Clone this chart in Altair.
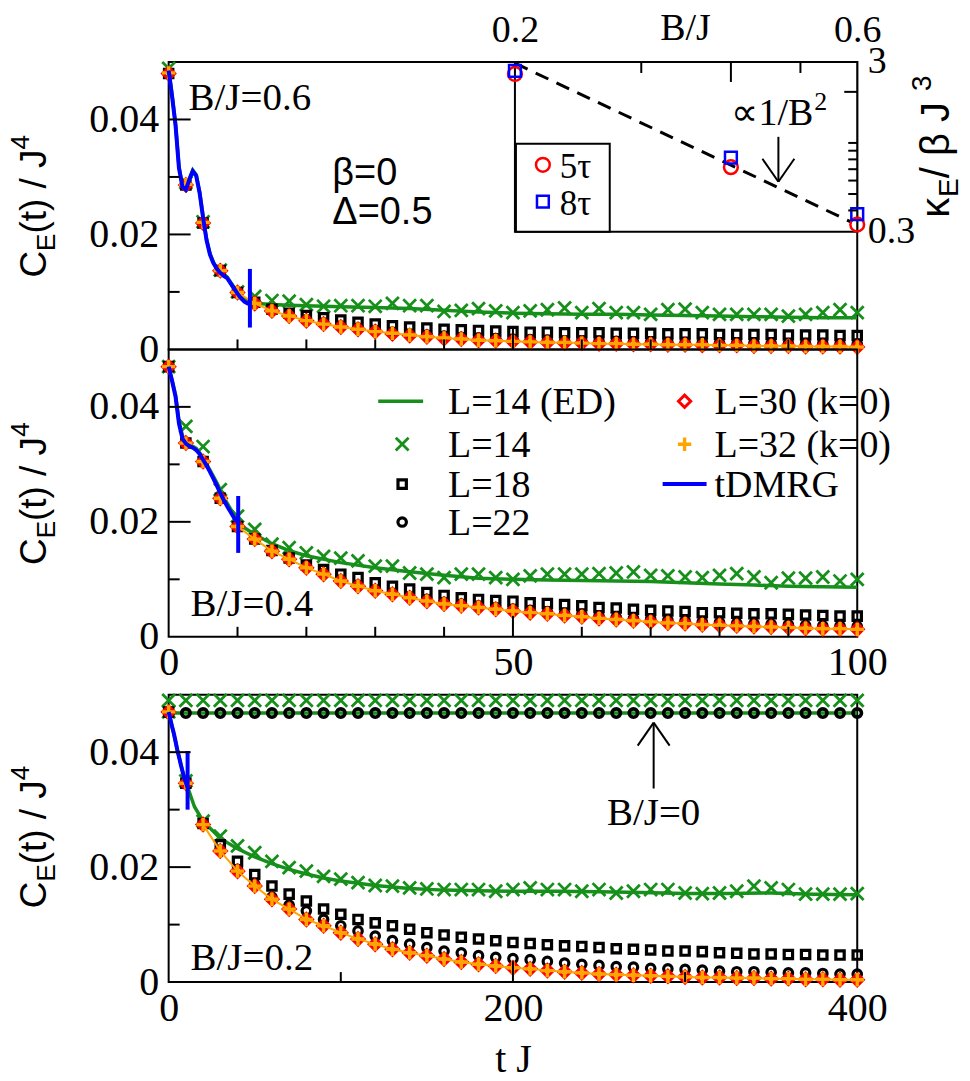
import altair as alt
import pandas as pd

# ---------------------------------------------------------------- data
T100 = [0, 2.5, 5, 7.5, 10, 12.5, 15, 17.5, 20, 22.5,
        25, 27.5, 30, 32.5, 35, 37.5, 40, 42.5, 45, 47.5,
        50, 52.5, 55, 57.5, 60, 62.5, 65, 67.5, 70, 72.5,
        75, 77.5, 80, 82.5, 85, 87.5, 90, 92.5, 95, 97.5, 100]
T400 = [0, 10, 20, 30, 40, 50, 60, 70, 80, 90,
        100, 110, 120, 130, 140, 150, 160, 170, 180, 190,
        200, 210, 220, 230, 240, 250, 260, 270, 280, 290,
        300, 310, 320, 330, 340, 350, 360, 370, 380, 390, 400]

# ---- B/J = 0.6 (top panel)
TOP_L14 = [0.0489, 0.0290, 0.0222, 0.0138, 0.0100, 0.0092, 0.0085, 0.0084, 0.0078, 0.0075,
           0.0076, 0.0076, 0.0075, 0.0080, 0.0076, 0.0076, 0.0066, 0.0068, 0.0071, 0.0067,
           0.0064, 0.0067, 0.0069, 0.0072, 0.0064, 0.0071, 0.0064, 0.0064, 0.0061, 0.0069,
           0.0070, 0.0064, 0.0061, 0.0061, 0.0061, 0.0061, 0.0058, 0.0061, 0.0064, 0.0069, 0.0064]
TOP_L18 = [0.0480, 0.0286, 0.0220, 0.0137, 0.0099, 0.0082, 0.0070, 0.0063, 0.0059, 0.0055,
           0.0051, 0.0047, 0.0044, 0.0041, 0.0039, 0.0037, 0.0035, 0.0034, 0.0033, 0.0032,
           0.0031, 0.0030, 0.0030, 0.0029, 0.0029, 0.0029, 0.0028, 0.0028, 0.0028, 0.0027,
           0.0027, 0.0027, 0.0026, 0.0026, 0.0026, 0.0026, 0.0025, 0.0025, 0.0025, 0.0024, 0.0024]
TOP_L22 = [0.0480, 0.0286, 0.0220, 0.0137, 0.0099, 0.0080, 0.0068, 0.0059, 0.0052, 0.0046,
           0.0041, 0.0037, 0.0033, 0.0030, 0.0027, 0.0025, 0.0023, 0.0021, 0.0020, 0.0019,
           0.0018, 0.0017, 0.0016, 0.0015, 0.0015, 0.0014, 0.0014, 0.0013, 0.0013, 0.0012,
           0.0012, 0.0012, 0.0011, 0.0011, 0.0011, 0.0010, 0.0010, 0.0010, 0.0010, 0.0009, 0.0009]
TOP_L30 = [0.0480, 0.0286, 0.0220, 0.0137, 0.0099, 0.0080, 0.0067, 0.0058, 0.0050, 0.0044,
           0.0039, 0.0035, 0.0031, 0.0027, 0.0024, 0.0022, 0.0019, 0.0018, 0.0016, 0.0015,
           0.0014, 0.0013, 0.0012, 0.0011, 0.0011, 0.0010, 0.0010, 0.0009, 0.0009, 0.0008,
           0.0008, 0.0007, 0.0007, 0.0007, 0.0006, 0.0006, 0.0006, 0.0005, 0.0005, 0.0005, 0.0004]
TOP_L32 = [0.0481, 0.0287, 0.0221, 0.0137, 0.0099, 0.0080, 0.0067, 0.0058, 0.0050, 0.0044,
           0.0039, 0.0035, 0.0031, 0.0028, 0.0025, 0.0022, 0.0020, 0.0018, 0.0016, 0.0015,
           0.0014, 0.0013, 0.0012, 0.0012, 0.0011, 0.0010, 0.0010, 0.0009, 0.0009, 0.0008,
           0.0008, 0.0008, 0.0007, 0.0007, 0.0006, 0.0006, 0.0006, 0.0005, 0.0005, 0.0005, 0.0004]
TOP_ED_T = [0, 0.5, 1, 1.5, 2, 2.5, 3, 3.5, 4, 4.5, 5, 5.5, 6, 6.5, 7, 7.5, 8, 8.5, 9, 9.5,
            10, 11, 12, 13, 15, 17.5, 20, 25, 30, 35, 40, 45, 50, 55, 60, 65, 70, 75, 80, 85,
            90, 95, 100]
TOP_ED_V = [0.0489, 0.0442, 0.0392, 0.0318, 0.0285, 0.0280, 0.0297, 0.0312, 0.0304, 0.0274,
            0.0231, 0.0192, 0.0167, 0.0152, 0.0142, 0.0135, 0.0130, 0.0126, 0.0117, 0.0108,
            0.0099, 0.0087, 0.0082, 0.0080, 0.0078, 0.0077, 0.0076, 0.0074, 0.0073, 0.0071,
            0.0068, 0.0065, 0.0063, 0.0062, 0.0061, 0.0061, 0.0060, 0.0059, 0.0058, 0.0057,
            0.0056, 0.0055, 0.0055]
TOP_DM_T = [0, 0.5, 1, 1.5, 2, 2.5, 3, 3.5, 4, 4.5, 5, 5.5, 6, 6.5, 7, 7.5, 8, 8.5, 9, 9.5,
            10, 10.5, 11, 11.6]
TOP_DM_V = [0.0485, 0.0440, 0.0390, 0.0315, 0.0283, 0.0278, 0.0295, 0.0310, 0.0302, 0.0272,
            0.0229, 0.0190, 0.0165, 0.0150, 0.0140, 0.0133, 0.0128, 0.0124, 0.0115, 0.0106,
            0.0097, 0.0089, 0.0083, 0.0079]
TOP_BAR = [11.8, 0.0038, 0.0140]

# ---- B/J = 0.4 (middle panel)
MID_L14 = [0.0470, 0.0366, 0.0331, 0.0256, 0.0210, 0.0187, 0.0161, 0.0155, 0.0146, 0.0140,
           0.0137, 0.0132, 0.0123, 0.0123, 0.0111, 0.0109, 0.0103, 0.0109, 0.0109, 0.0103,
           0.0100, 0.0106, 0.0109, 0.0109, 0.0109, 0.0110, 0.0111, 0.0113, 0.0107, 0.0106,
           0.0104, 0.0103, 0.0107, 0.0110, 0.0104, 0.0094, 0.0102, 0.0102, 0.0104, 0.0097, 0.0100]
MID_L18 = [0.0470, 0.0337, 0.0305, 0.0241, 0.0192, 0.0170, 0.0150, 0.0137, 0.0125, 0.0117,
           0.0109, 0.0103, 0.0094, 0.0088, 0.0083, 0.0077, 0.0072, 0.0068, 0.0065, 0.0063,
           0.0062, 0.0059, 0.0058, 0.0056, 0.0054, 0.0051, 0.0050, 0.0048, 0.0046, 0.0045,
           0.0044, 0.0042, 0.0042, 0.0041, 0.0040, 0.0040, 0.0039, 0.0038, 0.0037, 0.0036, 0.0036]
MID_L22 = [0.0470, 0.0337, 0.0305, 0.0241, 0.0192, 0.0170, 0.0149, 0.0135, 0.0121, 0.0110,
           0.0099, 0.0090, 0.0082, 0.0076, 0.0070, 0.0065, 0.0060, 0.0057, 0.0054, 0.0051,
           0.0048, 0.0046, 0.0043, 0.0041, 0.0039, 0.0036, 0.0034, 0.0032, 0.0031, 0.0029,
           0.0028, 0.0026, 0.0025, 0.0024, 0.0023, 0.0022, 0.0021, 0.0020, 0.0019, 0.0019, 0.0018]
MID_L30 = [0.0470, 0.0337, 0.0305, 0.0241, 0.0192, 0.0170, 0.0149, 0.0135, 0.0120, 0.0109,
           0.0097, 0.0088, 0.0080, 0.0074, 0.0068, 0.0062, 0.0057, 0.0054, 0.0051, 0.0048,
           0.0045, 0.0042, 0.0040, 0.0037, 0.0035, 0.0032, 0.0030, 0.0028, 0.0026, 0.0024,
           0.0023, 0.0021, 0.0020, 0.0019, 0.0018, 0.0017, 0.0016, 0.0015, 0.0014, 0.0014, 0.0013]
MID_L32 = [0.0470, 0.0337, 0.0305, 0.0241, 0.0192, 0.0170, 0.0149, 0.0135, 0.0120, 0.0109,
           0.0097, 0.0088, 0.0080, 0.0074, 0.0068, 0.0062, 0.0057, 0.0054, 0.0051, 0.0048,
           0.0045, 0.0042, 0.0040, 0.0037, 0.0035, 0.0032, 0.0030, 0.0028, 0.0026, 0.0024,
           0.0023, 0.0021, 0.0020, 0.0019, 0.0018, 0.0017, 0.0016, 0.0015, 0.0014, 0.0014, 0.0013]
MID_ED_T = [0, 0.5, 1, 1.5, 2, 2.5, 3, 4, 5, 6, 7, 8, 9, 10, 11, 12.5, 15, 17.5, 20, 25,
            30, 35, 40, 45, 50, 55, 60, 65, 70, 75, 80, 85, 90, 95, 100]
MID_ED_V = [0.0470, 0.0446, 0.0420, 0.0375, 0.0350, 0.0340, 0.0335, 0.0328, 0.0312, 0.0290,
            0.0268, 0.0243, 0.0222, 0.0204, 0.0190, 0.0178, 0.0162, 0.0150, 0.0141, 0.0129,
            0.0120, 0.0113, 0.0107, 0.0102, 0.0100, 0.0099, 0.0098, 0.0097, 0.0096, 0.0094,
            0.0092, 0.0090, 0.0088, 0.0087, 0.0086]
MID_DM_T = [0, 0.5, 1, 1.5, 2, 2.5, 3, 3.5, 4, 4.5, 5, 5.5, 6, 6.5, 7, 7.5, 8, 8.5, 9, 9.5, 10.1]
MID_DM_V = [0.0470, 0.0445, 0.0418, 0.0371, 0.0345, 0.0336, 0.0332, 0.0329, 0.0325, 0.0318,
            0.0308, 0.0298, 0.0287, 0.0275, 0.0263, 0.0250, 0.0238, 0.0227, 0.0217, 0.0207, 0.0198]
MID_BAR = [10.1, 0.0146, 0.0245]

# ---- B/J = 0.2 (bottom panel)
BOT_L14 = [0.0470, 0.0350, 0.0280, 0.0254, 0.0237, 0.0225, 0.0210, 0.0199, 0.0193, 0.0184,
           0.0179, 0.0173, 0.0168, 0.0167, 0.0164, 0.0162, 0.0161, 0.0161, 0.0161, 0.0158,
           0.0161, 0.0164, 0.0161, 0.0161, 0.0158, 0.0161, 0.0155, 0.0158, 0.0161, 0.0161,
           0.0155, 0.0154, 0.0155, 0.0158, 0.0167, 0.0164, 0.0161, 0.0153, 0.0153, 0.0153, 0.0154]
BOT_L18 = [0.0470, 0.0346, 0.0276, 0.0239, 0.0210, 0.0187, 0.0167, 0.0153, 0.0141, 0.0127,
           0.0118, 0.0109, 0.0103, 0.0098, 0.0092, 0.0086, 0.0082, 0.0078, 0.0075, 0.0072,
           0.0069, 0.0067, 0.0065, 0.0063, 0.0062, 0.0060, 0.0058, 0.0057, 0.0056, 0.0054,
           0.0054, 0.0053, 0.0051, 0.0050, 0.0049, 0.0049, 0.0048, 0.0048, 0.0047, 0.0047, 0.0047]
BOT_L22 = [0.0470, 0.0346, 0.0275, 0.0230, 0.0196, 0.0170, 0.0148, 0.0134, 0.0124, 0.0109,
           0.0098, 0.0089, 0.0080, 0.0072, 0.0066, 0.0060, 0.0054, 0.0051, 0.0046, 0.0043,
           0.0041, 0.0039, 0.0036, 0.0033, 0.0031, 0.0029, 0.0027, 0.0026, 0.0024, 0.0023,
           0.0022, 0.0021, 0.0019, 0.0018, 0.0018, 0.0017, 0.0016, 0.0016, 0.0015, 0.0014, 0.0014]
BOT_L30 = [0.0470, 0.0346, 0.0274, 0.0228, 0.0193, 0.0167, 0.0144, 0.0127, 0.0109, 0.0098,
           0.0086, 0.0075, 0.0066, 0.0057, 0.0051, 0.0046, 0.0040, 0.0035, 0.0031, 0.0028,
           0.0025, 0.0023, 0.0020, 0.0018, 0.0016, 0.0014, 0.0013, 0.0012, 0.0011, 0.0010,
           0.0009, 0.0008, 0.0008, 0.0007, 0.0007, 0.0006, 0.0006, 0.0005, 0.0005, 0.0004, 0.0004]
BOT_L32 = [0.0470, 0.0346, 0.0274, 0.0228, 0.0193, 0.0167, 0.0144, 0.0127, 0.0109, 0.0098,
           0.0086, 0.0075, 0.0066, 0.0057, 0.0051, 0.0046, 0.0040, 0.0035, 0.0031, 0.0028,
           0.0025, 0.0023, 0.0020, 0.0018, 0.0016, 0.0014, 0.0013, 0.0012, 0.0011, 0.0010,
           0.0009, 0.0008, 0.0008, 0.0007, 0.0007, 0.0006, 0.0006, 0.0005, 0.0005, 0.0004, 0.0004]
BOT_ED_T = [0, 2, 4, 6, 8, 10, 15, 20, 30, 40, 50, 60, 70, 80, 90, 100, 120, 140, 160, 180,
            200, 225, 250, 275, 300, 325, 350, 375, 400]
BOT_ED_V = [0.0470, 0.0445, 0.0418, 0.0392, 0.0368, 0.0348, 0.0305, 0.0280, 0.0250, 0.0232,
            0.0218, 0.0206, 0.0196, 0.0188, 0.0181, 0.0176, 0.0168, 0.0163, 0.0160, 0.0159,
            0.0158, 0.0158, 0.0157, 0.0156, 0.0154, 0.0154, 0.0155, 0.0153, 0.0152]
BOT_DM_T = [0, 1, 2, 3, 4, 5, 6, 7, 8, 9, 10, 11]
BOT_DM_V = [0.0470, 0.0457, 0.0444, 0.0433, 0.0419, 0.0404, 0.0392, 0.0379, 0.0367, 0.0356,
            0.0347, 0.0339]
BOT_BAR = [11.0, 0.0300, 0.0402]
# B/J = 0 reference curves (flat)
ZERO_L14 = [0.0490, 0.0490, 0.0490, 0.0490, 0.0490, 0.0490, 0.0490, 0.0490, 0.0490, 0.0490,
            0.0490, 0.0490, 0.0490, 0.0490, 0.0490, 0.0490, 0.0490, 0.0490, 0.0490, 0.0490,
            0.0490, 0.0490, 0.0490, 0.0490, 0.0490, 0.0490, 0.0490, 0.0490, 0.0490, 0.0490,
            0.0490, 0.0490, 0.0490, 0.0490, 0.0490, 0.0490, 0.0490, 0.0490, 0.0490, 0.0490, 0.0490]
ZERO_L22 = [0.0468, 0.0468, 0.0468, 0.0468, 0.0468, 0.0468, 0.0468, 0.0468, 0.0468, 0.0468,
            0.0468, 0.0468, 0.0468, 0.0468, 0.0468, 0.0468, 0.0468, 0.0468, 0.0468, 0.0468,
            0.0468, 0.0468, 0.0468, 0.0468, 0.0468, 0.0468, 0.0468, 0.0468, 0.0468, 0.0468,
            0.0468, 0.0468, 0.0468, 0.0468, 0.0468, 0.0468, 0.0468, 0.0468, 0.0468, 0.0468, 0.0468]
ZERO_ED_T = [0, 400]
ZERO_ED_V = [0.0468, 0.0468]

# ---- inset: kappa_E / (beta J^3) vs B/J
INSET_B = [0.2, 0.4, 0.6]
KAPPA_5TAU = [2.55, 0.72, 0.33]
KAPPA_8TAU = [2.66, 0.82, 0.38]
FIT_B = [0.2, 0.59]
FIT_K = [2.95, 0.34]

# ---- tick values
Y_LABELS = [0, 0.02, 0.04]
Y_MAJOR = [0.02, 0.04]
Y_MINOR = [0.01, 0.03]
X100_LABELS = [0, 50, 100]
X100_MAJOR = [50]
X100_MINOR = [10, 20, 30, 40, 60, 70, 80, 90]
X400_LABELS = [0, 200, 400]
X400_MAJOR = [200]
X400_MINOR = [100, 300]
IX_LABELS = [0.2, 0.6]
IX_MAJOR = [0.4]
IX_MINOR = [0.3, 0.5]
IY_LABELS = [0.3, 3]
IY_MAJOR = [2]
IY_MINOR = [0.4, 0.5, 0.6, 0.7, 0.8, 0.9, 1.0]

# ---------------------------------------------------------------- style
SERIF = "Liberation Serif"
SANS = "Liberation Sans"
GREEN = "#16901a"
RED = "#ff0000"
ORANGE = "#ffa500"
BLUE = "#0000ff"
BLACK = "#000000"
W = 690
H = 288
X_PATH = "M-1,-1L1,1M-1,1L1,-1"
PLUS_PATH = "M-1,0L1,0M0,-1L0,1"
ONE = pd.DataFrame({"k0": [0]})

SQ_SIZE, SQ_SW = 70, 3.2
CI_SIZE, CI_SW = 72, 3.2
DI_SIZE, DI_SW = 150, 3
PL_SIZE, PL_SW = 180, 3.4
XX_SIZE, XX_SW = 165, 2.8


def df_tv(t, v):
    n = min(len(t), len(v))
    return pd.DataFrame({"t": list(t)[:n], "v": list(v)[:n]})


def pts(t, v, X, Y, shape, color, size, sw):
    return alt.Chart(df_tv(t, v)).mark_point(
        shape=shape, color=color, size=size, strokeWidth=sw, filled=False, opacity=1
    ).encode(x=X, y=Y)


def ln(t, v, X, Y, color, sw, tmin=None):
    c = alt.Chart(df_tv(t, v))
    if tmin is not None:
        c = c.transform_filter(alt.datum.t >= tmin)
    return c.mark_line(color=color, strokeWidth=sw).encode(x=X, y=Y)


def txt(s, x, y, size, font=SERIF, align="left", angle=0, color=BLACK):
    return alt.Chart(ONE).mark_text(
        text=s, font=font, fontSize=size, align=align, baseline="alphabetic",
        angle=angle, color=color
    ).encode(x=alt.value(x), y=alt.value(y))


def seg(x1, y1, x2, y2, color=BLACK, sw=2):
    return alt.Chart(ONE).mark_rule(color=color, strokeWidth=sw).encode(
        x=alt.value(x1), y=alt.value(y1), x2=alt.value(x2), y2=alt.value(y2))


def sym(x, y, shape, color, size, sw):
    return alt.Chart(ONE).mark_point(
        shape=shape, color=color, size=size, strokeWidth=sw, filled=False, opacity=1
    ).encode(x=alt.value(x), y=alt.value(y))


def ytitle(bx, by):
    f, fs = 37, 26
    wC, wE, wM = 0.722 * f, 0.667 * fs, 2.278 * f
    return [
        txt("C", bx, by, f, SANS, angle=270),
        txt("E", bx + 9, by - wC, fs, SANS, angle=270),
        txt("(t) / J", bx, by - wC - wE, f, SANS, angle=270),
        txt("4", bx - 17, by - wC - wE - wM, fs, SANS, angle=270),
    ]


def ticks(X, Y, xmaj, xmin):
    return [
        alt.Chart(pd.DataFrame({"v": Y_MAJOR})).mark_tick(
            orient="horizontal", size=22, thickness=2, color=BLACK, opacity=1
        ).encode(y=Y, x=alt.value(11)),
        alt.Chart(pd.DataFrame({"v": Y_MINOR})).mark_tick(
            orient="horizontal", size=11, thickness=2, color=BLACK, opacity=1
        ).encode(y=Y, x=alt.value(5.5)),
        alt.Chart(pd.DataFrame({"t": xmaj})).mark_tick(
            orient="vertical", size=21, thickness=2, color=BLACK, opacity=1
        ).encode(x=X, y=alt.value(H - 10.5)),
        alt.Chart(pd.DataFrame({"t": xmin})).mark_tick(
            orient="vertical", size=10, thickness=2, color=BLACK, opacity=1
        ).encode(x=X, y=alt.value(H - 5)),
    ]


def series(X, Y, T, l14, l18, l22, l30, l32, ed_t, ed_v, dm_t, dm_v, bar, orange_from):
    bar_df = pd.DataFrame({"t": [bar[0]], "v": [bar[1]], "v2": [bar[2]]})
    return [
        ln(ed_t, ed_v, X, Y, GREEN, 3.5),
        pts(T, l14, X, Y, X_PATH, GREEN, XX_SIZE, XX_SW),
        pts(T, l18, X, Y, "square", BLACK, SQ_SIZE, SQ_SW),
        pts(T, l22, X, Y, "circle", BLACK, CI_SIZE, CI_SW),
        pts(T, l30, X, Y, "diamond", RED, DI_SIZE, DI_SW),
        ln(T, l32, X, Y, ORANGE, 2, tmin=orange_from),
        pts(T, l32, X, Y, PLUS_PATH, ORANGE, PL_SIZE, PL_SW),
        ln(dm_t, dm_v, X, Y, BLUE, 4),
        alt.Chart(bar_df).mark_rule(color=BLUE, strokeWidth=4).encode(
            x=X, y=Y, y2=alt.Y2("v2:Q")),
    ]


YS = alt.Scale(domain=[0, 0.05], nice=False, zero=False)
YAX = alt.Axis(values=Y_LABELS, format="~g", labelFont=SERIF, labelFontSize=40,
               labelPadding=10, labelColor=BLACK, ticks=False, domain=False,
               grid=False, labelOverlap=False)
Y = alt.Y("v:Q", scale=YS, axis=YAX, title=None)

# ---------------------------------------------------------------- top panel
X_top = alt.X("t:Q", scale=alt.Scale(domain=[0, 100], nice=False, zero=False), axis=None)
top_main = series(X_top, Y, T100, TOP_L14, TOP_L18, TOP_L22, TOP_L30, TOP_L32,
                  TOP_ED_T, TOP_ED_V, TOP_DM_T, TOP_DM_V, TOP_BAR, 10)
top_main += ticks(X_top, Y, X100_MAJOR, X100_MINOR)
top_main += ytitle(-123, 216)
top_main += [
    txt("B/J=0.6", 20, 48, 39),
    txt("β=0", 164, 123, 38, SANS),
    txt("Δ=0.5", 164, 162, 38, SANS),
]
# right title of inset: kappa_E / beta J^3
kf, kfs = 40, 28
kb, ky = 782, 156
wk, wE2, wM2 = 0.52 * kf, 0.667 * kfs, 2.187 * kf
top_main += [
    txt("κ", kb, ky, kf, SANS, angle=270),
    txt("E", kb + 9, ky - wk, kfs, SANS, angle=270),
    txt(" / β J", kb, ky - wk - wE2, kf, SANS, angle=270),
    txt("3", kb - 18, ky - wk - wE2 - wM2, kfs, SANS, angle=270),
]

IX = alt.X("b:Q", scale=alt.Scale(type="log", domain=[0.2, 0.6], range=[347, W], nice=False),
           axis=alt.Axis(orient="top", values=IX_LABELS, format="~g", labelFont=SERIF,
                         labelFontSize=38, labelPadding=13, labelFlush=False,
                         labelOverlap=False, labelColor=BLACK, ticks=False,
                         domain=False, grid=False),
           title=None)
IY = alt.Y("k:Q", scale=alt.Scale(type="log", domain=[0.3, 3], range=[170, 0], nice=False),
           axis=alt.Axis(orient="right", values=IY_LABELS, format="~g", labelFont=SERIF,
                         labelFontSize=38, labelPadding=10, labelOverlap=False,
                         labelColor=BLACK, ticks=False, domain=False, grid=False),
           title=None)

inset = [
    alt.Chart(ONE).mark_rect(fill="white", stroke=BLACK, strokeWidth=2).encode(
        x=alt.value(347), x2=alt.value(W), y=alt.value(0), y2=alt.value(170)),
    alt.Chart(pd.DataFrame({"b": FIT_B, "k": FIT_K})).mark_line(
        color=BLACK, strokeWidth=3, strokeDash=[14, 9]).encode(x=IX, y=IY),
    alt.Chart(pd.DataFrame({"b": INSET_B, "k": KAPPA_5TAU})).mark_point(
        shape="circle", color=RED, size=190, strokeWidth=2.5, filled=False, opacity=1
    ).encode(x=IX, y=IY),
    alt.Chart(pd.DataFrame({"b": INSET_B, "k": KAPPA_8TAU})).mark_point(
        shape="square", color=BLUE, size=140, strokeWidth=2.5, filled=False, opacity=1
    ).encode(x=IX, y=IY),
    alt.Chart(pd.DataFrame({"b": IX_MAJOR})).mark_tick(
        orient="vertical", size=20, thickness=2, color=BLACK, opacity=1
    ).encode(x=IX, y=alt.value(10)),
    alt.Chart(pd.DataFrame({"b": IX_MINOR})).mark_tick(
        orient="vertical", size=11, thickness=2, color=BLACK, opacity=1
    ).encode(x=IX, y=alt.value(5.5)),
    alt.Chart(pd.DataFrame({"k": IY_MAJOR})).mark_tick(
        orient="horizontal", size=13, thickness=2, color=BLACK, opacity=1
    ).encode(y=IY, x=alt.value(W - 6.5)),
    alt.Chart(pd.DataFrame({"k": IY_MINOR})).mark_tick(
        orient="horizontal", size=9, thickness=2, color=BLACK, opacity=1
    ).encode(y=IY, x=alt.value(W - 4.5)),
    # inset legend
    alt.Chart(ONE).mark_rect(fill="white", stroke=BLACK, strokeWidth=2).encode(
        x=alt.value(348), x2=alt.value(442), y=alt.value(82), y2=alt.value(170)),
    sym(375, 103, "circle", RED, 190, 2.5),
    sym(375, 140, "square", BLUE, 140, 2.5),
    txt("5τ", 392, 116, 35),
    txt("8τ", 392, 153, 35),
    txt("B/J", 518, -22, 38, align="center"),
    txt("∝1/B", 564, 63, 38),
    txt("2", 647, 48, 26),
    seg(611, 75, 611, 120),
    seg(595, 97, 611, 120),
    seg(627, 97, 611, 120),
]

top = alt.layer(alt.layer(*top_main), alt.layer(*inset)).resolve_scale(
    x="independent", y="independent").properties(width=W, height=H)

# ---------------------------------------------------------------- middle panel
X_mid = alt.X("t:Q", scale=alt.Scale(domain=[0, 100], nice=False, zero=False),
              axis=alt.Axis(values=X100_LABELS, format="d", labelFont=SERIF,
                            labelFontSize=40, labelPadding=6, labelFlush=False,
                            labelOverlap=False, labelColor=BLACK, ticks=False,
                            domain=False, grid=False),
              title=None)
mid_layers = series(X_mid, Y, T100, MID_L14, MID_L18, MID_L22, MID_L30, MID_L32,
                    MID_ED_T, MID_ED_V, MID_DM_T, MID_DM_V, MID_BAR, 10)
mid_layers += ticks(X_mid, Y, X100_MAJOR, X100_MINOR)
mid_layers += ytitle(-123, 216)
mid_layers += [
    txt("B/J=0.4", 22, 267, 39),
    # legend
    seg(210, 52, 255, 52, GREEN, 3.5),
    txt("L=14 (ED)", 280, 65, 38),
    sym(234, 95, X_PATH, GREEN, XX_SIZE, XX_SW),
    txt("L=14", 280, 108, 38),
    sym(234, 135, "square", BLACK, SQ_SIZE, SQ_SW),
    txt("L=18", 280, 148, 38),
    sym(234, 173, "circle", BLACK, CI_SIZE, CI_SW),
    txt("L=22", 280, 186, 38),
    sym(517, 52, "diamond", RED, DI_SIZE, DI_SW),
    txt("L=30 (k=0)", 547, 65, 38),
    sym(517, 95, PLUS_PATH, ORANGE, PL_SIZE, PL_SW),
    txt("L=32 (k=0)", 547, 108, 38),
    seg(495, 135, 539, 135, BLUE, 4),
    txt("tDMRG", 547, 148, 38),
]
mid = alt.layer(*mid_layers).properties(width=W, height=H)

# ---------------------------------------------------------------- bottom panel
X_bot = alt.X("t:Q", scale=alt.Scale(domain=[0, 400], nice=False, zero=False),
              axis=alt.Axis(values=X400_LABELS, format="d", labelFont=SERIF,
                            labelFontSize=40, labelPadding=6, labelFlush=False,
                            labelOverlap=False, labelColor=BLACK, ticks=False,
                            domain=False, grid=False, titleFont=SERIF,
                            titleFontSize=40, titleFontWeight="normal",
                            titleColor=BLACK, titlePadding=12),
              title="t J")
bot_layers = [
    ln(ZERO_ED_T, ZERO_ED_V, X_bot, Y, GREEN, 3.5),
    pts(T400, ZERO_L14, X_bot, Y, X_PATH, GREEN, XX_SIZE, XX_SW),
    pts(T400, ZERO_L22, X_bot, Y, "circle", BLACK, CI_SIZE, 3.6),
]
bot_layers += series(X_bot, Y, T400, BOT_L14, BOT_L18, BOT_L22, BOT_L30, BOT_L32,
                     BOT_ED_T, BOT_ED_V, BOT_DM_T, BOT_DM_V, BOT_BAR, 20)
bot_layers += ticks(X_bot, Y, X400_MAJOR, X400_MINOR)
bot_layers += ytitle(-123, 214)
bot_layers += [
    txt("B/J=0.2", 22, 276, 39),
    txt("B/J=0", 486, 131, 39, align="center"),
    seg(486, 28, 486, 94),
    seg(470, 51, 486, 28),
    seg(502, 51, 486, 28),
]
bot = alt.layer(*bot_layers).properties(width=W, height=H)

spacer = alt.Chart(ONE).mark_point(opacity=0).encode(
    x=alt.value(0), y=alt.value(0)
).properties(width=W, height=58, view=alt.ViewBackground(stroke="transparent"))

chart = alt.vconcat(top, mid, spacer, bot, spacing=0, bounds="flush").properties(
    padding={"left": 7, "top": 8, "right": 5, "bottom": 0},
    background="white",
).configure_view(stroke=BLACK, strokeWidth=2)

chart.save("out.html", embed_options={"renderer": "svg", "actions": False})
